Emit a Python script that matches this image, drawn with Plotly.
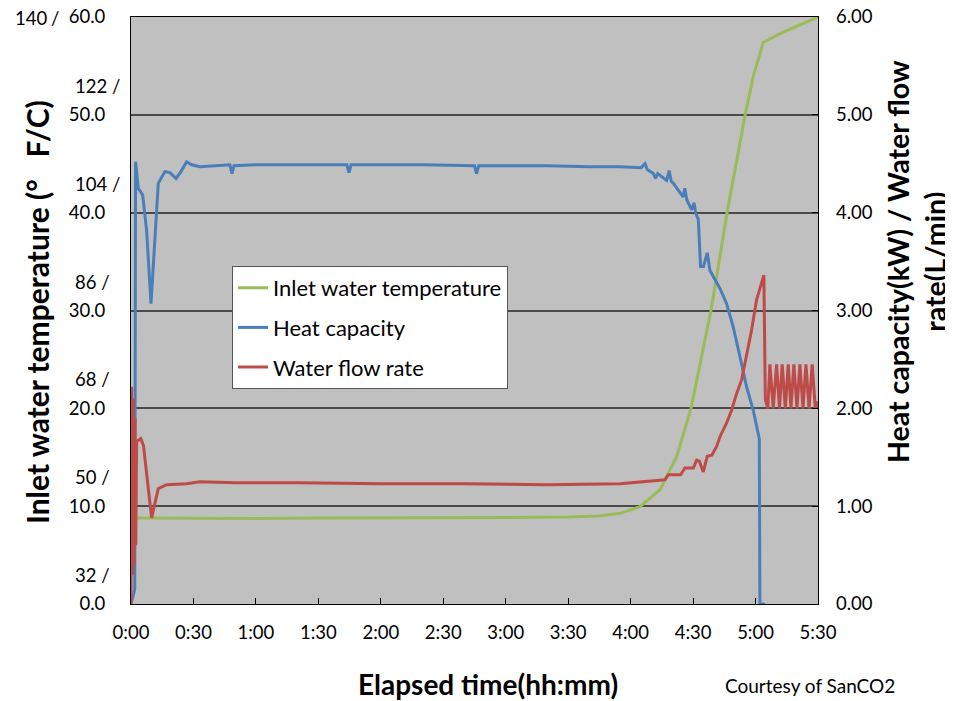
import plotly.graph_objects as go

# ---------------- data ----------------
time_tick_vals = [0, 30, 60, 90, 120, 150, 180, 210, 240, 270, 300, 330]
time_tick_labels = ["0:00", "0:30", "1:00", "1:30", "2:00", "2:30", "3:00",
                    "3:30", "4:00", "4:30", "5:00", "5:30"]

left_tick_vals = [0, 10, 20, 30, 40, 50, 60]
left_tick_c = ["0.0", "10.0", "20.0", "30.0", "40.0", "50.0", "60.0"]
left_tick_f = ["32 /", "50 /", "68 /", "86 /", "104 /", "122 /", "140"]

right_tick_vals = [0, 1, 2, 3, 4, 5, 6]
right_tick_labels = ["0.00", "1.00", "2.00", "3.00", "4.00", "5.00", "6.00"]

# Inlet water temperature (deg C) vs elapsed minutes
temp_t = [3, 30, 60, 90, 120, 150, 180, 210, 225, 235, 244.5, 254, 262, 269,
          274, 278.6, 282.5, 286.3, 290.7, 295, 299, 303.7, 311.7, 320, 330]
temp_v = [8.8, 8.75, 8.75, 8.8, 8.8, 8.8, 8.85, 8.9, 9.0, 9.27, 9.95, 11.65,
          15.0, 20.0, 25.3, 30.0, 35.0, 40.0, 45.0, 50.0, 54.0, 57.4, 58.3,
          59.1, 60.0]

# Heat capacity (kW)
heat_t = [0, 1.8, 2.2, 3.5, 5.6, 7.5, 9.6, 10.7, 13.1, 16.3, 18.7, 21.6, 24,
          26.7, 29.1, 33.1, 40, 47.5, 48.5, 49.5, 60, 80, 100, 103.7, 104.7,
          105.7, 120, 140, 165, 166, 167, 180, 200, 220, 234.9, 245, 246.9,
          248, 250.9, 252, 253, 257.3, 258.5, 259.5, 260.5, 265.3, 266, 267,
          269.3, 270.5, 271.2, 272.5, 273.6, 275, 276.8, 278.1, 281.3, 283,
          286.1, 289.3, 292.5, 295.7, 298.9, 301.8, 302.1, 304.5]
heat_v = [0, 0.15, 4.52, 4.25, 4.18, 3.82, 3.07, 3.45, 4.30, 4.42, 4.41, 4.35,
          4.42, 4.52, 4.49, 4.47, 4.48, 4.49, 4.40, 4.48, 4.49, 4.49, 4.49,
          4.49, 4.41, 4.49, 4.49, 4.49, 4.48, 4.40, 4.48, 4.48, 4.48, 4.47,
          4.47, 4.46, 4.50, 4.44, 4.40, 4.35, 4.40, 4.33, 4.43, 4.32, 4.30,
          4.16, 4.25, 4.13, 4.03, 4.10, 4.00, 3.93, 3.45, 3.45, 3.59, 3.41,
          3.28, 3.22, 3.07, 2.83, 2.53, 2.22, 1.98, 1.69, 0, 0]

# Water flow rate (L/min)
flow_t = [0, 0.3, 0.7, 1.1, 1.5, 1.9, 2.3, 2.7, 4.7, 6, 9.9, 13.1, 17.1, 26.7,
          33.1, 50, 80, 120, 160, 200, 234.9, 246.9, 256.5, 258.1, 264, 266.1,
          270.1, 271.7, 273, 274.9, 276.8, 279, 281.3, 282.9, 286.1, 288.5,
          290.9, 293.3, 295.7, 298.1, 300.5, 304, 304.7,
          305.9, 306.9, 308.5, 310.1, 311.5, 312.8, 314.3, 315.7, 317, 318.4,
          319.9, 321.3, 322.8, 324.2, 325.7, 327.2, 328.7, 330]
flow_v = [0, 2.22, 0.3, 2.1, 0.4, 1.9, 0.6, 1.66, 1.69, 1.62, 0.88, 1.18,
          1.22, 1.23, 1.25, 1.24, 1.24, 1.23, 1.23, 1.22, 1.23, 1.25, 1.27,
          1.32, 1.32, 1.39, 1.39, 1.47, 1.46, 1.35, 1.51, 1.52, 1.61, 1.71,
          1.85, 1.98, 2.15, 2.29, 2.53, 2.80, 3.11, 3.36, 2.09,
          2.0, 2.45, 2.0, 2.45, 2.0, 2.45, 2.0, 2.45, 2.0, 2.45,
          2.0, 2.45, 2.0, 2.45, 2.0, 2.45, 2.0, 2.07]

# ---------------- layout constants ----------------
OFF = 8                      # page body margin
W, H = 953 - OFF, 701 - OFF
PL, PR, PT, PB = 131, 818, 17, 604   # plot box in page pixels
FONT = "Lato, sans-serif"
TICK = 18.5
TITLE = 28.5


def px_x(px):
    return (px - PL) / (PR - PL)


def px_y(py):
    return (PB - py) / (PB - PT)


fig = go.Figure()
fig.add_trace(go.Scatter(x=temp_t, y=temp_v, mode="lines",
                         name="Inlet water temperature", legendgroup="a",
                         line=dict(color="#9BBB59", width=3)))
fig.add_trace(go.Scatter(x=heat_t, y=heat_v, mode="lines",
                         name="Heat capacity", legendgroup="b", yaxis="y2",
                         line=dict(color="#4A7EBB", width=3)))
fig.add_trace(go.Scatter(x=flow_t, y=flow_v, mode="lines",
                         name="Water flow rate", legendgroup="c", yaxis="y2",
                         line=dict(color="#BE4B48", width=3)))

annotations = []
for v, f in zip(left_tick_vals, left_tick_f):
    if v == 60:
        annotations.append(dict(xref="paper", yref="y", x=px_x(13), y=v,
                                yshift=-1, xanchor="left", yanchor="middle",
                                text=f, showarrow=False,
                                font=dict(size=TICK, color="#000", family=FONT)))
        annotations.append(dict(xref="paper", yref="y", x=px_x(55), y=v,
                                yshift=-1, xanchor="center", yanchor="middle",
                                text="/", showarrow=False,
                                font=dict(size=TICK, color="#000", family=FONT)))
    else:
        annotations.append(dict(xref="paper", yref="y", x=px_x(73), y=v,
                                yshift=29, xanchor="left", yanchor="middle",
                                text=f, showarrow=False,
                                font=dict(size=TICK, color="#000", family=FONT)))

annotations += [
    dict(xref="paper", yref="paper", x=px_x(37), y=px_y(312),
         text="<b>Inlet water temperature (°\u00a0\u00a0\u00a0F/C)</b>",
         textangle=-90, showarrow=False, xanchor="center", yanchor="middle",
         font=dict(size=30, color="#000", family=FONT)),
    dict(xref="paper", yref="paper", x=px_x(916), y=px_y(262),
         text="<b>Heat capacity(kW) / Water flow<br>rate(L/min)</b>",
         textangle=-90, showarrow=False, xanchor="center", yanchor="middle",
         font=dict(size=TITLE, color="#000", family=FONT)),
    dict(xref="paper", yref="paper", x=px_x(488), y=px_y(684),
         text="<b>Elapsed time(hh:mm)</b>", showarrow=False,
         xanchor="center", yanchor="middle",
         font=dict(size=TITLE - 0.5, color="#000", family=FONT)),
    dict(xref="paper", yref="paper", x=px_x(810), y=px_y(686),
         text="Courtesy of SanCO2", showarrow=False,
         xanchor="center", yanchor="middle",
         font=dict(size=19, color="#000", family=FONT)),
]

fig.update_layout(
    width=W, height=H,
    margin=dict(l=PL - OFF, r=W - (PR - OFF), t=PT - OFF, b=H - (PB - OFF),
                pad=0, autoexpand=False),
    paper_bgcolor="white",
    plot_bgcolor="#C0C0C0",
    font=dict(family=FONT, size=TICK, color="#000"),
    showlegend=True,
    legend=dict(x=px_x(232), y=px_y(266), xanchor="left", yanchor="top",
                bgcolor="white", bordercolor="#555", borderwidth=1,
                font=dict(size=22, family=FONT, color="#000"),
                traceorder="grouped", tracegroupgap=8, itemwidth=30),
    xaxis=dict(range=[0, 330], tickvals=time_tick_vals,
               ticktext=time_tick_labels, showgrid=False, zeroline=False,
               showline=True, linecolor="#000", linewidth=1, mirror=True,
               ticks="inside", ticklen=6, tickcolor="#000",
               ticklabelstandoff=12, tickfont=dict(size=TICK),
               ticklabeloverflow="allow", automargin=False),
    yaxis=dict(range=[0, 60], tickvals=left_tick_vals, ticktext=left_tick_c,
               showgrid=True, gridcolor="#4a4a4a", gridwidth=1.5,
               zeroline=False, showline=True, linecolor="#000", linewidth=1,
               mirror=True, ticks="", ticklabelstandoff=21,
               tickfont=dict(size=TICK), ticklabeloverflow="allow",
               automargin=False),
    yaxis2=dict(range=[0, 6], tickvals=right_tick_vals,
                ticktext=right_tick_labels, overlaying="y", side="right",
                showgrid=False, zeroline=False, showline=False,
                ticks="inside", ticklen=6, tickcolor="#000",
                ticklabelstandoff=17, tickfont=dict(size=TICK),
                ticklabeloverflow="allow", automargin=False),
    annotations=annotations,
)

fig.write_html("out.html")
